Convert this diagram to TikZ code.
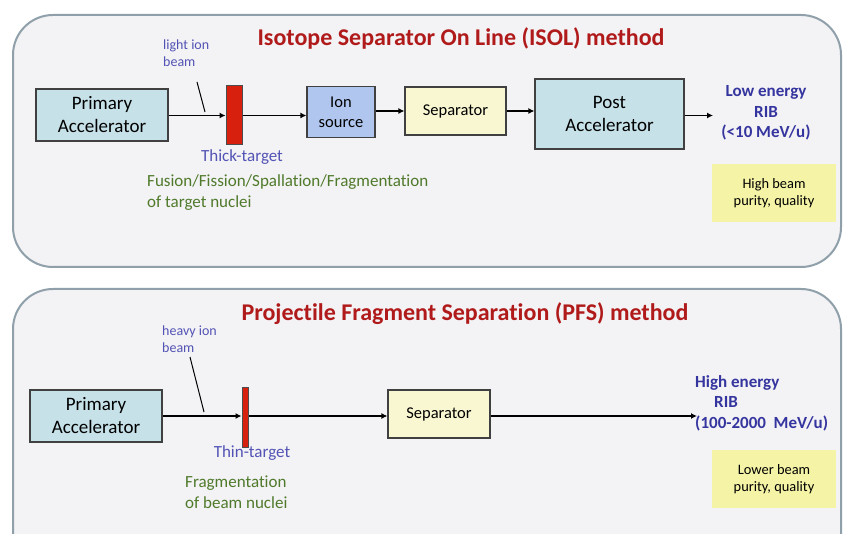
\documentclass[tikz,border=0pt]{standalone}
\usepackage{fontspec}
\setmainfont[Ligatures={NoCommon}]{Carlito}
\usepackage{tikz}
\usetikzlibrary{arrows.meta}

\definecolor{panelfill}{HTML}{F3F2F4}
\definecolor{paneldraw}{HTML}{8FA0AA}
\definecolor{titlered}{HTML}{B01A1A}
\definecolor{labblue}{HTML}{5253B5}
\definecolor{ribblue}{HTML}{3535A0}
\definecolor{labgreen}{HTML}{4F7A2B}
\definecolor{accfill}{HTML}{C6E1E8}
\definecolor{ionfill}{HTML}{B1C6EE}
\definecolor{sepfill}{HTML}{F9F7D1}
\definecolor{notefill}{HTML}{F5F3A6}
\definecolor{targetred}{HTML}{D8200F}

\tikzset{
  panel/.style={fill=panelfill,draw=paneldraw,line width=2pt,rounded corners=40pt},
  box/.style={draw=black!75,line width=1.2pt,inner sep=0pt,align=center,font=\fontsize{19}{23}\selectfont},
  smallbox/.style={box,font=\fontsize{16.5}{20}\selectfont},
  target/.style={draw=black!70,line width=1pt,fill=targetred,inner sep=0pt},
  beam/.style={-{Latex[length=6pt,width=6pt]},line width=1.7pt},
  title/.style={text=titlered,font=\bfseries\fontsize{24}{28}\selectfont},
  lab/.style={text=labblue,inner sep=0pt,align=left,font=\fontsize{14}{17}\selectfont},
  tlab/.style={text=labblue,inner sep=0pt,font=\fontsize{17}{20}\selectfont},
  glab/.style={text=labgreen,inner sep=0pt,align=left,font=\fontsize{17}{21}\selectfont},
  rib/.style={text=ribblue,inner sep=0pt,font=\bfseries\fontsize{17}{20.5}\selectfont},
  note/.style={fill=notefill,inner sep=0pt,align=center,minimum width=124pt,minimum height=58pt,font=\fontsize{14.4}{17}\selectfont}
}

\begin{document}
\begin{tikzpicture}[x=1pt,y=-1pt]
\useasboundingbox (0,0) rectangle (843,534);
\clip (0,0) rectangle (843,534);
\fill[white] (0,0) rectangle (843,534);

% ISOL panel
\draw[panel] (13,15) rectangle (841,267);
\node[title] (title1) at (461,38) {Isotope Separator On Line (ISOL) method};
\node[lab,anchor=west] (light) at (163,53) {light ion\\beam};
\node[box,fill=accfill,minimum width=132pt,minimum height=52pt] (prim1) at (102,115) {Primary\\Accelerator};
\node[target,minimum width=16pt,minimum height=59pt] (thick) at (234,115.5) {};
\node[smallbox,fill=ionfill,minimum width=68pt,minimum height=51pt] (ion) at (341,112) {Ion\\source};
\node[smallbox,fill=sepfill,minimum width=101pt,minimum height=48pt] (sep1) at (455.5,111) {Separator};
\node[box,fill=accfill,minimum width=149pt,minimum height=70pt] (post) at (609.5,114) {Post\\Accelerator};
\coordinate (out1) at (713,115.5);
\coordinate (ptr1a) at (197,82);
\coordinate (ptr1b) at (205,112);
\draw[line width=1pt] (ptr1a) -- (ptr1b);
\draw[beam] (prim1.east |- thick.west) -- (thick.west);
\draw[beam] (thick.east) -- (thick.east -| ion.west);
\draw[beam] (ion.east |- sep1.west) -- (sep1.west);
\draw[beam] (sep1.east) -- (sep1.east -| post.west);
\draw[beam] (post.east |- out1) -- (out1);
\node[tlab] (thicklab) at (242,157) {Thick-target};
\node[glab,anchor=west] (fus) at (147,192.5) {Fusion/Fission/Spallation/Fragmentation\\of target nuclei};
\node[rib,align=center] (low) at (766,113) {Low energy\\RIB\\(<10 MeV/u)};
\node[note] (high) at (774,193) {High beam\\purity, quality};

% PFS panel
\draw[panel] (13,289) rectangle (841,580);
\node[title] (title2) at (465,314) {Projectile Fragment Separation (PFS) method};
\node[lab,anchor=west] (heavy) at (162,339) {heavy ion\\beam};
\node[box,fill=accfill,minimum width=132pt,minimum height=52pt] (prim2) at (96,416) {Primary\\Accelerator};
\node[target,minimum width=6pt,minimum height=60pt] (thin) at (245,417) {};
\node[smallbox,fill=sepfill,minimum width=102pt,minimum height=48pt] (sep2) at (439,414) {Separator};
\coordinate (out2) at (697,416);
\coordinate (ptr2a) at (190,357);
\coordinate (ptr2b) at (204,412);
\draw[line width=1pt] (ptr2a) -- (ptr2b);
\draw[beam] (prim2.east |- out2) -- (thin.west |- out2);
\draw[beam] (thin.east |- out2) -- (sep2.west |- out2);
\draw[beam] (sep2.east |- out2) -- (out2);
\node[tlab] (thinlab) at (252,453) {Thin-target};
\node[glab,anchor=west] (frag) at (185,492) {Fragmentation\\of beam nuclei};
\node[rib,align=left,anchor=west] (highe) at (695,403) {High energy\\\hspace*{19pt}RIB\\(100-2000~~MeV/u)};
\node[note] (lower) at (774,479) {Lower beam\\purity, quality};
\end{tikzpicture}
\end{document}
